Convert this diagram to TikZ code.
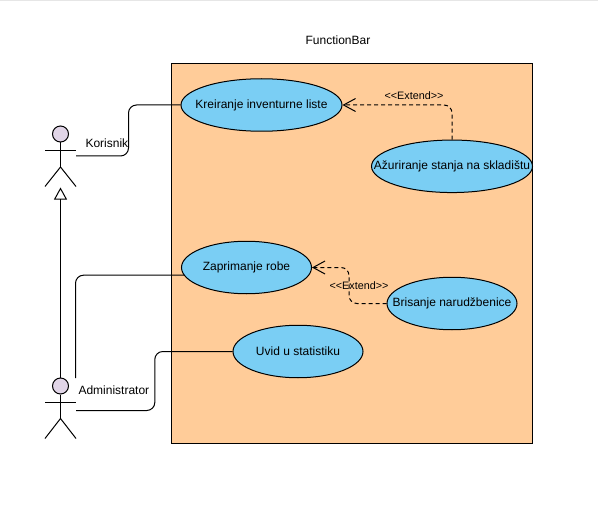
\documentclass[tikz,border=0pt]{standalone}
\usepackage{fontspec}
\setmainfont{Liberation Sans}
\usetikzlibrary{positioning, shapes.geometric, arrows.meta}
\newcommand{\casetext}[1]{\raisebox{-1pt}{\makebox[0pt]{#1}}}
\newcommand{\extendtext}{<{}<Extend>{}>}
\tikzset{
	usecase/.style={
		ellipse,
		draw,
		fill=caseblue,
		text centered,
		inner sep=0pt,
		minimum width=130pt,
		minimum height=52.5pt,
		font=\fontsize{12}{14}\selectfont,
	},
	head/.style={
		circle,
		draw,
		fill=headlilac,
		inner sep=0pt,
		minimum size=16pt,
	},
	caption/.style={
		inner sep=0pt,
		font=\fontsize{12}{14}\selectfont,
	},
	stereotype/.style={
		inner sep=0pt,
		font=\fontsize{10.8}{12}\selectfont,
	},
	link/.style={
		rounded corners=8pt,
	},
	extend/.style={
		dashed,
		dash pattern=on 4pt off 3pt,
		rounded corners=8pt,
		-{Straight Barb[length=12pt,width=13pt]},
	},
}
\definecolor{caseblue}{HTML}{7ACEF4}
\definecolor{headlilac}{HTML}{E1D5E7}
\definecolor{boxorange}{HTML}{FFCC99}
\definecolor{topgray}{HTML}{E6E6E6}
\begin{document}
\begin{tikzpicture}[x=1pt, y=-1pt, line width=1pt]
	\useasboundingbox (0,0) rectangle (598,511);
	\fill [topgray] (0,0) rectangle (598,1.5);

	% Place system box
	\node [draw, fill=boxorange, inner sep=0pt, minimum width=361pt, minimum height=379.5pt] (bar) at (352,253.25) {};
	\node [caption] (bartitle) at (338,40) {FunctionBar};

	% Place use cases
	\node [usecase, minimum width=161pt] (kreiranje) at (261.5,105) {\casetext{Kreiranje inventurne liste}};
	\node [usecase, minimum width=161pt] (azuriranje) at (452,166.3) {\casetext{Ažuriranje stanja na skladištu}};
	\node [usecase] (zaprimanje) at (246.5,267.5) {\casetext{Zaprimanje robe}};
	\node [usecase] (brisanje) at (452,303.5) {\casetext{Brisanje narudžbenice}};
	\node [usecase] (uvid) at (298,351.5) {\casetext{Uvid u statistiku}};

	% Actor Korisnik
	\node [head] (korisnik) at (60.5,134) {};
	\coordinate (korisnikhip) at (60.5,167);
	\coordinate (korisnikfoot) at (60.5,187.5);
	\coordinate (korisnikhand) at (76,156);
	\draw (korisnik) to (korisnikhip);
	\draw (45,150.5) to (76,150.5);
	\draw (45,186.5) to (korisnikhip) to (76,186.5);
	\node [caption, anchor=west] (korisniklabel) at (85,143) {Korisnik};

	% Actor Administrator
	\node [head] (admin) at (60.5,386) {};
	\coordinate (adminhip) at (60.5,418.5);
	\coordinate (adminhand) at (76,410.5);
	\coordinate (admintop) at (75.5,378);
	\draw (admin) to (adminhip);
	\draw (45,402.5) to (76,402.5);
	\draw (45,438.5) to (adminhip) to (76,438.5);
	\node [caption, anchor=west] (adminlabel) at (78,390) {Administrator};

	% Connectors
	\coordinate (bendk) at (128.5,156);
	\coordinate (benda) at (154.8,410.5);
	\coordinate (bendb) at (349,303.5);
	\draw [-{Triangle[open, length=12pt, width=13pt]}] (admin) to (korisnikfoot);
	\draw [link] (korisnikhand) -- (bendk) |- (kreiranje.west);
	\draw [link] (admintop) |- (zaprimanje.187);
	\draw [link] (adminhand) -- (benda) |- (uvid.west);
	\draw [extend] (azuriranje.north) |- (kreiranje.east);
	\draw [extend] (brisanje.west) -- (bendb) |- (zaprimanje.east);

	% Stereotypes
	\node [stereotype] (extendtop) at (414,96) {\extendtext};
	\node [stereotype] (extendlow) at (359,286) {\extendtext};
\end{tikzpicture}
\end{document}
